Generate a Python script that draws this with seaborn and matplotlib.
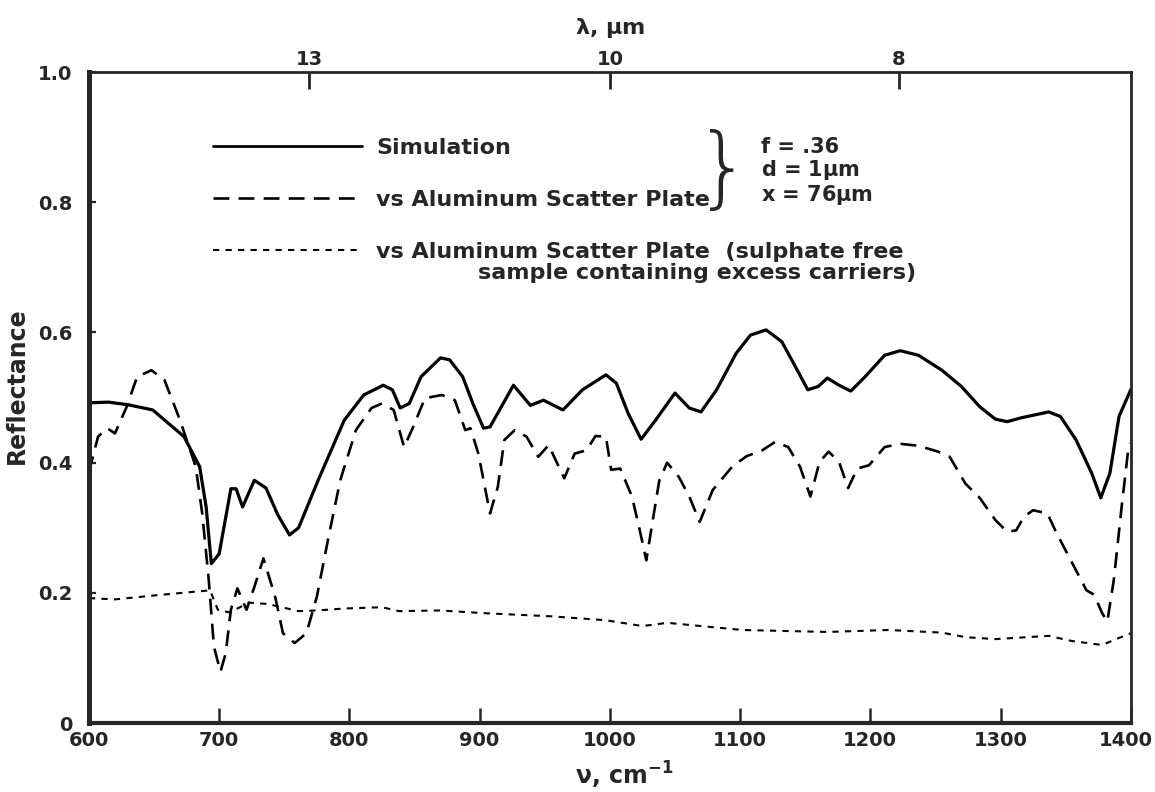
import numpy as np
import pandas as pd
import seaborn as sns
import matplotlib
matplotlib.use("Agg")
import matplotlib.pyplot as plt
from matplotlib.lines import Line2D
from matplotlib.transforms import ScaledTranslation

# ---- data ----
sim_x = [600, 615, 630, 649, 673, 685, 690, 694, 700, 709, 713, 718, 727, 736, 745, 754, 761, 776, 796,
         811, 826, 833, 839, 846, 855, 870, 877, 887, 895, 903, 908, 926, 939, 949, 964, 979, 997, 1005,
         1014, 1024, 1035, 1050, 1061, 1070, 1082, 1097, 1108, 1120, 1132, 1141, 1152, 1160, 1167, 1176,
         1185, 1196, 1211, 1223, 1237, 1255, 1270, 1284, 1296, 1305, 1316, 1337, 1346, 1358, 1370, 1377,
         1384, 1391, 1400]
sim_y = [0.492, 0.493, 0.489, 0.481, 0.440, 0.394, 0.332, 0.245, 0.260, 0.360, 0.360, 0.332, 0.373, 0.361,
         0.320, 0.289, 0.300, 0.373, 0.465, 0.504, 0.519, 0.512, 0.484, 0.491, 0.532, 0.561, 0.558, 0.532,
         0.490, 0.453, 0.455, 0.519, 0.488, 0.496, 0.481, 0.512, 0.535, 0.522, 0.476, 0.436, 0.465, 0.507,
         0.484, 0.478, 0.512, 0.568, 0.596, 0.604, 0.586, 0.553, 0.512, 0.517, 0.530, 0.519, 0.510, 0.532,
         0.565, 0.572, 0.565, 0.542, 0.517, 0.486, 0.467, 0.463, 0.469, 0.478, 0.471, 0.435, 0.384, 0.346,
         0.384, 0.471, 0.512]

alu_x = [600, 607, 614, 620, 629, 637, 648, 658, 670, 682, 687, 692, 696, 701, 705, 709, 714, 721, 727,
         734, 743, 749, 758, 767, 775, 784, 793, 805, 817, 825, 834, 842, 849, 858, 871, 881, 889, 893,
         899, 908, 914, 919, 927, 936, 945, 953, 965, 973, 982, 989, 997, 1001, 1008, 1017, 1023, 1028,
         1033, 1038, 1044, 1053, 1061, 1069, 1079, 1094, 1105, 1117, 1127, 1137, 1146, 1154, 1161, 1168,
         1176, 1183, 1190, 1199, 1211, 1223, 1237, 1252, 1261, 1273, 1284, 1296, 1305, 1312, 1318, 1325,
         1336, 1343, 1355, 1366, 1372, 1378, 1382, 1387, 1393, 1398, 1400]
alu_y = [0.386, 0.440, 0.453, 0.445, 0.486, 0.532, 0.542, 0.527, 0.465, 0.394, 0.322, 0.220, 0.117, 0.079,
         0.107, 0.174, 0.207, 0.174, 0.209, 0.253, 0.194, 0.138, 0.123, 0.138, 0.194, 0.286, 0.373, 0.450,
         0.484, 0.491, 0.481, 0.424, 0.455, 0.499, 0.504, 0.496, 0.450, 0.453, 0.414, 0.322, 0.363, 0.435,
         0.450, 0.440, 0.409, 0.427, 0.376, 0.414, 0.419, 0.441, 0.440, 0.389, 0.391, 0.348, 0.296, 0.250,
         0.312, 0.373, 0.400, 0.378, 0.348, 0.309, 0.358, 0.394, 0.410, 0.419, 0.432, 0.424, 0.394, 0.348,
         0.401, 0.417, 0.401, 0.361, 0.391, 0.396, 0.424, 0.429, 0.426, 0.417, 0.409, 0.368, 0.346, 0.312,
         0.294, 0.296, 0.317, 0.327, 0.322, 0.292, 0.246, 0.204, 0.197, 0.169, 0.156, 0.220, 0.332, 0.419,
         0.430]

sul_x = [600, 620, 655, 688, 693, 699, 708, 723, 737, 761, 775, 796, 825, 838, 870, 902, 955, 997, 1025,
         1044, 1102, 1167, 1214, 1255, 1273, 1296, 1337, 1355, 1378, 1390, 1400]
sul_y = [0.192, 0.190, 0.197, 0.203, 0.204, 0.174, 0.170, 0.185, 0.183, 0.172, 0.173, 0.176, 0.178, 0.172,
         0.173, 0.169, 0.164, 0.158, 0.149, 0.154, 0.143, 0.140, 0.143, 0.139, 0.132, 0.129, 0.134, 0.126,
         0.120, 0.130, 0.138]

x_ticks = [600, 700, 800, 900, 1000, 1100, 1200, 1300, 1400]
y_ticks = [0, 0.2, 0.4, 0.6, 0.8, 1.0]
y_ticklabels = ["0", "0.2", "0.4", "0.6", "0.8", "1.0"]
lam_labels = ["13", "10", "8"]
lam_tick_pos = [769, 1000, 1222]   # positions on the wavenumber scale, as drawn in the reference

labels = ["Simulation", "vs Aluminum Scatter Plate", "vs Aluminum Scatter Plate  (sulphate free"]
label3_cont = "sample containing excess carriers)"
params = "f = .36\nd = 1$\\mu$m\nx = 76$\\mu$m"

# ---- plotting ----
sns.set_style("ticks")
plt.rcParams['font.family'] = ['DejaVu Sans']
plt.rcParams['font.weight'] = 'bold'
plt.rcParams['mathtext.default'] = 'bf'
plt.rcParams['lines.solid_joinstyle'] = 'round'
plt.rcParams['lines.dash_joinstyle'] = 'round'

fig = plt.figure(figsize=(11.55, 7.92), dpi=100)
ax = fig.add_axes([0.077, 0.087, 0.902, 0.822])

df_sim = pd.DataFrame({"x": sim_x, "y": sim_y})
df_alu = pd.DataFrame({"x": alu_x, "y": alu_y})
df_sul = pd.DataFrame({"x": sul_x, "y": sul_y})

ls_dash = (0, (6, 3.5))
ls_dot = (0, (3, 3))
sns.lineplot(data=df_sim, x="x", y="y", ax=ax, color="black", lw=2.3, sort=False)
sns.lineplot(data=df_alu, x="x", y="y", ax=ax, color="black", lw=1.9, sort=False, linestyle=ls_dash)
sns.lineplot(data=df_sul, x="x", y="y", ax=ax, color="black", lw=1.5, sort=False, linestyle=ls_dot)

ax.set_xlim(600, 1400)
ax.set_ylim(0, 1.0)
ax.set_xticks(x_ticks)
ax.set_xticklabels([str(t) for t in x_ticks], fontsize=14, fontweight='bold')
ax.set_yticks(y_ticks)
ax.set_yticklabels(y_ticklabels, fontsize=14, fontweight='bold')
ax.tick_params(axis='x', direction='in', length=11, width=1.8, pad=6)
ax.tick_params(axis='y', direction='in', length=5, width=1.6, pad=12)
ax.set_xlabel("$\\nu$, cm$^{-1}$", fontsize=17, fontweight='bold')
ax.xaxis.set_label_coords(0.514, -0.056)
ax.set_ylabel("Reflectance", fontsize=17, fontweight='bold', labelpad=5)
ax.yaxis.set_label_coords(-0.058, 0.518)

last = ax.get_xticklabels()[-1]
last.set_transform(last.get_transform() + ScaledTranslation(-5 / 100, 0, fig.dpi_scale_trans))

ax.spines["left"].set_linewidth(3.6)
ax.spines["bottom"].set_linewidth(3.0)
for s in ["top", "right"]:
    ax.spines[s].set_linewidth(2.0)
    ax.spines[s].set_visible(True)

ax2 = ax.twiny()
ax2.set_xlim(600, 1400)
ax2.set_xticks(lam_tick_pos)
ax2.set_xticklabels(lam_labels, fontsize=14, fontweight='bold')
ax2.tick_params(axis='x', direction='in', length=12, width=2.0, pad=2)
ax2.set_xlabel("$\\lambda$, $\\mu$m", fontsize=16, fontweight='bold', labelpad=12)
for s in ax2.spines.values():
    s.set_visible(False)

handles = [Line2D([], [], color="black", lw=2.0),
           Line2D([], [], color="black", lw=1.9, linestyle=ls_dash),
           Line2D([], [], color="black", lw=1.5, linestyle=ls_dot)]
leg = ax.legend(handles, labels, loc="upper left", bbox_to_anchor=(0.119, 0.899), frameon=False,
                handlelength=6.7, handletextpad=0.65, labelspacing=1.45, borderpad=0, borderaxespad=0,
                prop={'size': 16, 'weight': 'bold'})
ax.text(0.373, 0.691, label3_cont, transform=ax.transAxes, fontsize=16, fontweight='bold',
        va='center', ha='left')

ax.text(0.609, 0.846, "}", transform=ax.transAxes, fontsize=64, fontweight='light',
        va='center', ha='center', family='DejaVu Sans')
ax.text(0.645, 0.847, params, transform=ax.transAxes, fontsize=15, fontweight='bold',
        va='center', ha='left', linespacing=1.05)

fig.savefig("out.png", dpi=100)
